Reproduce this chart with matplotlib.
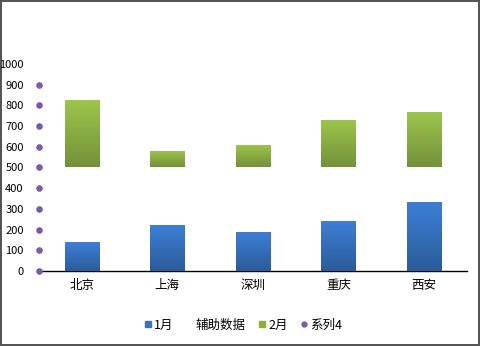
import numpy as np
import matplotlib
matplotlib.use("Agg")
import matplotlib.pyplot as plt
from matplotlib.lines import Line2D
from matplotlib.colors import LinearSegmentedColormap

plt.rcParams['font.family'] = ['Noto Sans CJK SC', 'DejaVu Sans']

# data
cities = ["北京", "上海", "深圳", "重庆", "西安"]
jan = [140, 220, 190, 240, 335]
feb = [325, 80, 110, 230, 270]
helper = [500 - v for v in jan]          # invisible spacer series
series4 = [0, 100, 200, 300, 400, 500, 600, 700, 800, 900]

fig = plt.figure(figsize=(4.8, 3.46), dpi=100)
fig.patch.set_edgecolor("#555555")
fig.patch.set_linewidth(1.5)
ax = fig.add_axes([0.081, 0.217, 0.892, 0.598])

x = np.arange(len(cities))
w = 0.4
b1 = ax.bar(x, jan, w, color="#3A72BC", zorder=2)
ax.bar(x, helper, w, bottom=jan, color="none", zorder=2)
b2 = ax.bar(x, feb, w, bottom=[j + h for j, h in zip(jan, helper)], color="#8AB042", zorder=2)

# vertical gradient fill on the bars
def fill_gradient(bars, top_col, bot_col):
    cmap = LinearSegmentedColormap.from_list("g", [bot_col, top_col])
    grad = np.linspace(0, 1, 64).reshape(-1, 1)
    for p in bars:
        x0, y0 = p.get_x(), p.get_y()
        im = ax.imshow(grad, cmap=cmap, origin="lower", aspect="auto",
                       extent=[x0, x0 + p.get_width(), y0, y0 + p.get_height()], zorder=3)
        im.set_clip_path(p)

fill_gradient(b1, "#3D7FD6", "#2B5C9A")
fill_gradient(b2, "#9DC64C", "#74913A")

ax.scatter(np.full(len(series4), -0.5), series4, s=14, color="#7B5BA6", zorder=4, clip_on=False)

ax.set_xlim(-0.5, len(cities) - 0.5)
ax.set_ylim(0, 1000)
ax.set_yticks(range(0, 1001, 100))
ax.set_xticks(x)
ax.set_xticklabels(cities, fontsize=9)
ax.tick_params(length=0, colors="#000000")
ax.tick_params(axis="y", pad=11, labelsize=8)
ax.tick_params(axis="x", pad=6)
for s in ["top", "right", "left"]:
    ax.spines[s].set_visible(False)
ax.spines["bottom"].set_color("#000000")
ax.spines["bottom"].set_linewidth(1)

handles = [
    Line2D([], [], marker="s", ls="", color="#3A72BC", markersize=5),
    Line2D([], [], marker="s", ls="", color="none", markersize=5),
    Line2D([], [], marker="s", ls="", color="#8AB042", markersize=5),
    Line2D([], [], marker="o", ls="", color="#7B5BA6", markersize=3.5),
]
fig.legend(handles, ["1月", "辅助数据", "2月", "系列4"], loc="center",
           bbox_to_anchor=(0.505, 0.06), ncol=4, frameon=False, fontsize=9,
           handletextpad=0.1, columnspacing=0.9, handlelength=0.8)

fig.savefig("out.png", dpi=100)
